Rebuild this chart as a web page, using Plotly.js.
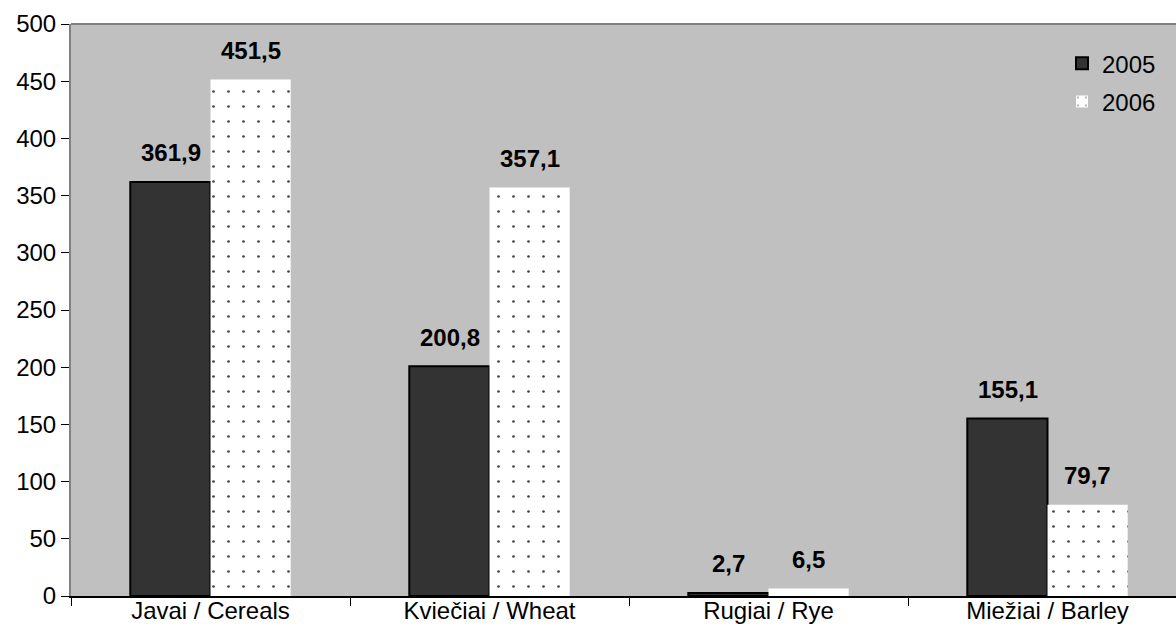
<!DOCTYPE html>
<html>
<head>
<meta charset="utf-8">
<script src="https://cdn.plot.ly/plotly-3.0.1.min.js"></script>
<style>html,body{margin:0;padding:0;background:#fff;overflow:hidden;}#chart{width:1188px;height:644px;}</style>
</head>
<body>
<div id="chart"></div>
<script>
const categories = ["Javai / Cereals", "Kviečiai / Wheat", "Rugiai / Rye", "Miežiai / Barley"];
const series2005 = [361.9, 200.8, 2.7, 155.1];
const series2006 = [451.5, 357.1, 6.5, 79.7];
const seriesNames = ["2005", "2006"];
const yTicks = [0, 50, 100, 150, 200, 250, 300, 350, 400, 450, 500];

const font = "Arial, 'Liberation Sans', sans-serif";

const traces = [
  {
    type: "bar", name: seriesNames[0], x: categories, y: series2005,
    marker: {color: "#333333", line: {color: "#000000", width: 2}},
    legendgroup: "a", hoverinfo: "y"
  },
  {
    type: "bar", name: seriesNames[1], x: categories, y: series2006,
    marker: {color: "#ffffff", line: {color: "#ffffff", width: 0},
      pattern: {shape: ".", fgcolor: "#444444", bgcolor: "#ffffff", size: 15, solidity: 0.025, fillmode: "replace"}},
    legendgroup: "b", hoverinfo: "y"
  }
];

const annotations = [];
function fmt(v){ return v.toFixed(1).replace(".", ","); }
categories.forEach((c, i) => {
  annotations.push({x: c, y: series2005[i], text: fmt(series2005[i]), showarrow: false,
    xref: "x", yref: "y", yanchor: "middle", xshift: -40, yshift: 29,
    font: {family: font, size: 24, color: "#000", weight: "bold"}});
  annotations.push({x: c, y: series2006[i], text: fmt(series2006[i]), showarrow: false,
    xref: "x", yref: "y", yanchor: "middle", xshift: 40, yshift: 29,
    font: {family: font, size: 24, color: "#000", weight: "bold"}});
});

const layout = {
  width: 1188, height: 644,
  margin: {l: 71, r: 1, t: 24, b: 48, pad: 0},
  paper_bgcolor: "#ffffff",
  plot_bgcolor: "#c0c0c0",
  barmode: "group",
  bargap: 0.425,
  bargroupgap: 0,
  separators: ", ",
  font: {family: font, size: 24, color: "#000"},
  showlegend: true,
  legend: {x: 0.888, y: 0.97, xanchor: "left", yanchor: "top",
    bgcolor: "rgba(0,0,0,0)", font: {family: font, size: 24, color: "#000"},
    traceorder: "grouped", tracegroupgap: 4, itemwidth: 30},
  xaxis: {
    type: "category", showgrid: false, zeroline: false,
    showline: true, linecolor: "#000000", linewidth: 1.5,
    ticks: "outside", tickson: "boundaries", ticklen: 8, tickcolor: "#000",
    ticklabelstandoff: -7,
    tickfont: {family: font, size: 24, color: "#000"}
  },
  yaxis: {
    range: [0, 500], tickvals: yTicks, ticktext: yTicks.map(String),
    showgrid: false, zeroline: false,
    showline: true, linecolor: "#808080", linewidth: 2,
    ticks: "outside", ticklen: 8, tickcolor: "#000",
    tickfont: {family: font, size: 24, color: "#000"}
  },
  shapes: [{type: "line", xref: "paper", yref: "paper", x0: 0, x1: 1, y0: 1, y1: 1,
    line: {color: "#808080", width: 2}}],
  annotations: annotations
};

Plotly.newPlot("chart", traces, layout, {displayModeBar: false, staticPlot: true});
</script>
</body>
</html>
